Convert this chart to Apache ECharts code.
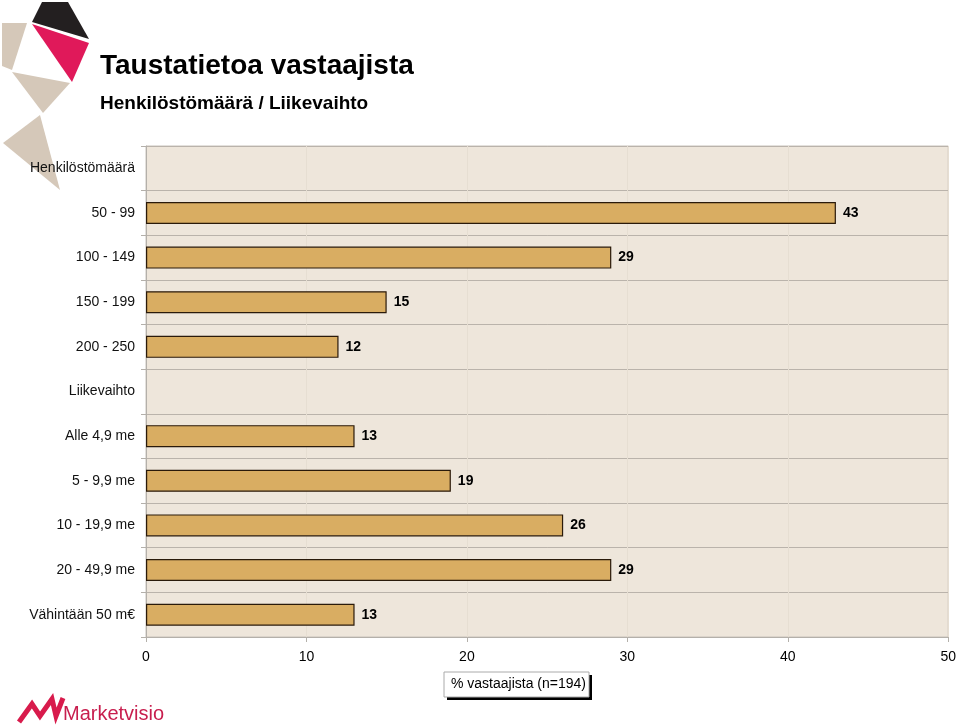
<!DOCTYPE html>
<html><head><meta charset="utf-8">
<script src="https://cdn.jsdelivr.net/npm/echarts@6/dist/echarts.min.js"></script>
<style>html,body{margin:0;padding:0;background:#fff}#c{width:959px;height:725px}</style>
</head><body><div id="c"></div>
<script>
const categories = ['Henkilöstömäärä','50 - 99','100 - 149','150 - 199','200 - 250','Liikevaihto','Alle 4,9 me','5 - 9,9 me','10 - 19,9 me','20 - 49,9 me','Vähintään 50 m€'];
const values = [null, 43, 29, 15, 12, null, 13, 19, 26, 29, 13];
const xTicks = [0, 10, 20, 30, 40, 50];
const titleText = 'Taustatietoa vastaajista';
const subtitleText = 'Henkilöstömäärä / Liikevaihto';
const legendText = '% vastaajista (n=194)';

const chart = echarts.init(document.getElementById('c'), null, {renderer:'canvas'});
const FONT = '"Liberation Sans", Arial, sans-serif';
chart.setOption({
  animation:false,
  backgroundColor:'#fff',
  textStyle:{fontFamily:FONT},
  title:[
    {text:titleText, left:95, top:47, textStyle:{fontSize:28, fontWeight:'bold', color:'#000', fontFamily:FONT}},
    {text:subtitleText, left:95, top:89, textStyle:{fontSize:19, fontWeight:'bold', color:'#000', fontFamily:FONT}}
  ],
  grid:{left:146, right:8, top:146, bottom:88, show:true, backgroundColor:'#EEE6DB', borderColor:'#c8c2ba', borderWidth:1},
  xAxis:{type:'value', min:xTicks[0], max:xTicks[xTicks.length-1], interval:10,
    axisLine:{show:true, lineStyle:{color:'#b4b0aa'}},
    axisTick:{show:true, length:5, lineStyle:{color:'#b4b0aa'}},
    axisLabel:{fontSize:14, color:'#000', margin:13, fontFamily:FONT},
    splitLine:{show:true, lineStyle:{color:'#E6DED2', width:1}}
  },
  yAxis:{type:'category', data:categories, inverse:true,
    axisLine:{show:true, lineStyle:{color:'#b4b0aa'}},
    axisTick:{show:true, length:5, lineStyle:{color:'#b4b0aa'}},
    axisLabel:{fontSize:14, color:'#111', margin:11, fontFamily:FONT},
    splitLine:{show:true, lineStyle:{color:'#bab3ab', width:1}}
  },
  series:[{type:'bar', data:values, barWidth:22,
    itemStyle:{color:'#D9AD62', borderColor:'#2a1a0a', borderWidth:1.2},
    label:{show:true, position:'right', distance:7, fontSize:14, fontWeight:'bold', color:'#000', fontFamily:FONT}
  }],
  graphic:[
    {type:'polygon', shape:{points:[[42,2],[68,2],[89,39],[32,22]]}, style:{fill:'#231f20'}},
    {type:'polygon', shape:{points:[[32,24],[89,43],[72,82]]}, style:{fill:'#E0195A'}},
    {type:'polygon', shape:{points:[[2,23],[27,23],[12,70],[2,66]]}, style:{fill:'#D5C8B9'}},
    {type:'polygon', shape:{points:[[12,72],[70,83],[43,113]]}, style:{fill:'#D5C8B9'}},
    {type:'polygon', shape:{points:[[3,143],[40,115],[60,190]]}, style:{fill:'#D5C8B9'}},
    {type:'rect', shape:{x:447, y:675, width:145, height:25}, style:{fill:'#000'}},
    {type:'rect', shape:{x:444, y:672, width:145, height:25}, style:{fill:'#fff', stroke:'#aaa', lineWidth:1}},
    {type:'text', x:451, y:677, style:{text:legendText, fontSize:14, fill:'#000', fontFamily:FONT}},
    {type:'polyline', shape:{points:[[19,722],[32,704],[40,716],[52,699],[56,716],[63,698]]}, style:{stroke:'#D81B4C', lineWidth:5, fill:null, lineJoin:'miter'}},
    {type:'text', x:63, y:704, style:{text:'Marketvisio', fontSize:20, fill:'#C81E4E', fontFamily:FONT}}
  ]
});
</script></body></html>
